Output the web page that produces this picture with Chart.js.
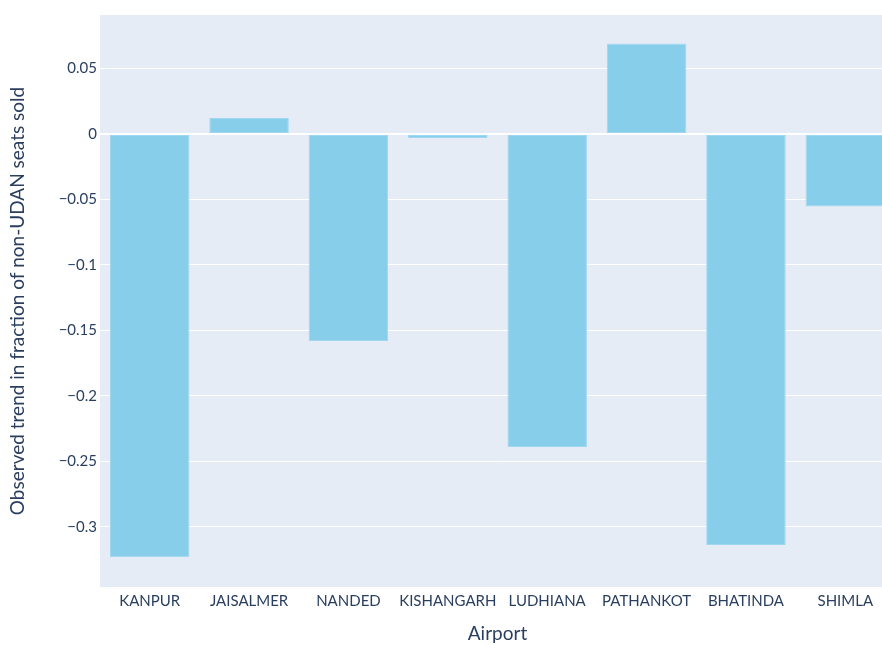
<!DOCTYPE html>
<html>
<head>
<meta charset="utf-8">
<script src="https://cdn.jsdelivr.net/npm/chart.js@4"></script>
<style>
html,body{margin:0;padding:0;background:#fff;overflow:hidden;width:882px;height:645px;}
#wrap{position:absolute;left:0;top:0;width:895px;height:645px;}
</style>
</head>
<body>
<div id="wrap"><canvas id="c" width="895" height="645"></canvas></div>
<script>
const categories = ["KANPUR","JAISALMER","NANDED","KISHANGARH","LUDHIANA","PATHANKOT","BHATINDA","SHIMLA"];
const trendValues = [-0.323, 0.0122, -0.158, -0.003, -0.239, 0.0691, -0.3137, -0.0553];
const yTicks = [-0.3, -0.25, -0.2, -0.15, -0.1, -0.05, 0, 0.05];
const yMin = -0.3458, yMax = 0.0908;

const textColor = '#2a3f5f';
const fontFamily = 'Lato, "Open Sans", sans-serif';

function fmt(v){
  if (Math.abs(v) < 1e-9) return '0';
  const s = String(Math.round(v*1000)/1000);
  return s.replace('-', '\u2212');
}

const bgPlugin = {
  id:'plotbg',
  beforeDraw(chart){
    const {ctx, chartArea:a} = chart;
    ctx.save();
    ctx.fillStyle = '#E5ECF6';
    ctx.fillRect(a.left, a.top, a.right-a.left, a.bottom-a.top);
    ctx.restore();
  }
};

new Chart(document.getElementById('c'), {
  type:'bar',
  data:{
    labels: categories,
    datasets:[{
      data: trendValues,
      backgroundColor:'#87CEEB',
      borderColor:'rgba(160,215,240,1)',
      borderWidth:1,
      borderSkipped:false,
      barPercentage:0.8,
      categoryPercentage:1.0
    }]
  },
  options:{
    responsive:false,
    animation:false,
    devicePixelRatio:1,
    layout:{padding:{top:15,right:0,bottom:0,left:0}},
    plugins:{legend:{display:false}, tooltip:{enabled:false}},
    scales:{
      x:{
        grid:{display:false, drawTicks:false},
        border:{display:false},
        ticks:{color:textColor, font:{family:fontFamily,size:15}, padding:5, maxRotation:0, autoSkip:false},
        title:{display:true, text:'Airport', color:textColor, font:{family:fontFamily,size:19}, padding:{top:10,bottom:0}},
        afterFit(s){ s.height = 58; s.paddingLeft = 0; s.paddingRight = 0; }
      },
      y:{
        min:yMin, max:yMax,
        grid:{
          drawTicks:false,
          color:'#ffffff',
          lineWidth:(c)=> (c.tick && Math.abs(c.tick.value)<1e-9) ? 2 : 1
        },
        border:{display:false},
        afterBuildTicks(s){ s.ticks = yTicks.map(v=>({value:v})); },
        ticks:{color:textColor, font:{family:fontFamily,size:15}, padding:3, callback:(v)=>fmt(v)},
        title:{display:true, text:'Observed trend in fraction of non-UDAN seats sold', color:textColor, font:{family:fontFamily,size:19}, padding:{top:6,bottom:0}},
        afterFit(s){ s.width = 100; s.paddingTop = 0; s.paddingBottom = 0; }
      }
    }
  },
  plugins:[bgPlugin]
});
</script>
</body>
</html>
